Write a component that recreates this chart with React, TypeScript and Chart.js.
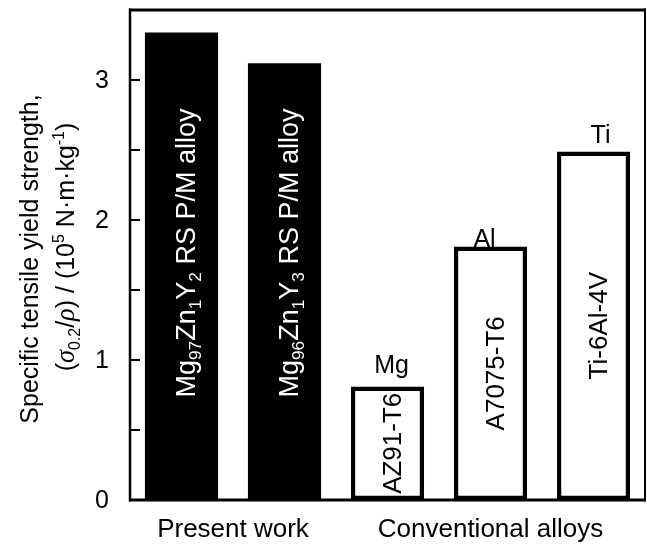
import React, { useEffect, useRef } from "react";
import { Chart, registerables } from "chart.js";

Chart.register(...registerables);

type Seg = [string, "n" | "sub" | "sup" | "it"];

// ---- data ----
const categories = [
  "Mg97Zn1Y2 RS P/M alloy",
  "Mg96Zn1Y3 RS P/M alloy",
  "AZ91-T6",
  "A7075-T6",
  "Ti-6Al-4V",
];
const strengths = [3.34, 3.12, 0.81, 1.81, 2.49];
const groupNames = ["Present work", "Conventional alloys"];
const groupMembers = [
  [0, 1],
  [2, 3, 4],
];
const metalLabels = ["", "", "Mg", "Al", "Ti"];
const yTickValues = [0, 0.5, 1, 1.5, 2, 2.5, 3];
const yTickLabels = ["0", "", "1", "", "2", "", "3"];
const yMin = 0;
const yMax = 3.5;

const barText: Seg[][] = [
  [["Mg", "n"], ["97", "sub"], ["Zn", "n"], ["1", "sub"], ["Y", "n"], ["2", "sub"], [" RS P/M alloy", "n"]],
  [["Mg", "n"], ["96", "sub"], ["Zn", "n"], ["1", "sub"], ["Y", "n"], ["3", "sub"], [" RS P/M alloy", "n"]],
  [["AZ91-T6", "n"]],
  [["A7075-T6", "n"]],
  [["Ti-6Al-4V", "n"]],
];
const yTitleLine1: Seg[] = [["Specific tensile yield strength,", "n"]];
const yTitleLine2: Seg[] = [
  ["(", "n"], ["σ", "it"], ["0.2", "sub"], ["/", "n"], ["ρ", "it"], [") / (10", "n"],
  ["5", "sup"], [" N·m·kg", "n"], ["-1", "sup"], [")", "n"],
];

// ---- style ----
const barFilled = [true, true, false, false, false];
const barTextSize = [27, 27, 26, 26, 26];
const labelNudgeX = [0, 0, 4, -6, 7];
const labelLift = [0, 0, 14, 0, 8];
const SANS = '"Liberation Sans", Arial, Helvetica, sans-serif';
const SERIF = '"Liberation Serif", "Times New Roman", serif';

function drawRich(
  ctx: CanvasRenderingContext2D,
  segs: Seg[],
  size: number,
  cx: number,
  cy: number,
  color: string,
  rotate: boolean
) {
  const parts = segs.map(([t, k]) => {
    const small = k === "sub" || k === "sup";
    const fs = small ? size * 0.64 : size;
    const font = k === "it" ? `italic ${fs * 1.05}px ${SERIF}` : `${fs}px ${SANS}`;
    ctx.font = font;
    return { t, k, font, w: ctx.measureText(t).width };
  });
  const total = parts.reduce((a, p) => a + p.w, 0);
  ctx.save();
  ctx.translate(cx, cy);
  if (rotate) ctx.rotate(-Math.PI / 2);
  ctx.fillStyle = color;
  ctx.textAlign = "left";
  ctx.textBaseline = "alphabetic";
  let x = -total / 2;
  const base = size * 0.36;
  for (const p of parts) {
    const dy = p.k === "sub" ? size * 0.22 : p.k === "sup" ? -size * 0.4 : 0;
    ctx.font = p.font;
    ctx.fillText(p.t, x, base + dy);
    x += p.w;
  }
  ctx.restore();
}

const decorPlugin = {
  id: "decor",
  afterDatasetsDraw(chart: any) {
    const ctx: CanvasRenderingContext2D = chart.ctx;
    const { left, right, top, bottom } = chart.chartArea;
    const xs = chart.scales.x;
    const ys = chart.scales.y;
    ctx.save();
    ctx.strokeStyle = "#000";
    ctx.lineCap = "butt";
    const line = (x1: number, y1: number, x2: number, y2: number, w: number) => {
      ctx.lineWidth = w;
      ctx.beginPath();
      ctx.moveTo(x1, y1);
      ctx.lineTo(x2, y2);
      ctx.stroke();
    };
    // frame
    line(left, top - 1.5, left, bottom + 1.5, 2.5);
    line(right, top - 1.5, right, bottom + 1.5, 2);
    line(left - 1, top, right + 1, top, 3);
    line(left - 1, bottom, right + 1, bottom, 3);

    // y ticks (inward) + labels
    ctx.fillStyle = "#000";
    ctx.font = `25px ${SANS}`;
    ctx.textAlign = "right";
    ctx.textBaseline = "middle";
    yTickValues.forEach((v, i) => {
      const py = ys.getPixelForValue(v);
      if (v > yMin) line(left, py, left + 10, py, 2);
      if (yTickLabels[i]) ctx.fillText(yTickLabels[i], left - 21, py + 1);
    });

    // group labels under x axis
    ctx.font = `26px ${SANS}`;
    ctx.textAlign = "center";
    ctx.textBaseline = "alphabetic";
    groupNames.forEach((g, gi) => {
      const m = groupMembers[gi];
      const cx = (xs.getPixelForValue(m[0]) + xs.getPixelForValue(m[m.length - 1])) / 2;
      ctx.fillText(g, cx, bottom + 37);
    });

    // y title
    drawRich(ctx, yTitleLine1, 25, 29, (top + bottom) / 2 + 4, "#000", true);
    drawRich(ctx, yTitleLine2, 25, 65, (top + bottom) / 2 - 8, "#000", true);

    // text inside bars and metal labels
    strengths.forEach((v, i) => {
      const cx = xs.getPixelForValue(i);
      const pTop = ys.getPixelForValue(v);
      const pBase = ys.getPixelForValue(0);
      const cy = barFilled[i] ? (top + bottom) / 2 - 2 : (pTop + pBase) / 2;
      drawRich(ctx, barText[i], barTextSize[i], cx + 4, cy, barFilled[i] ? "#fff" : "#000", true);
      if (metalLabels[i]) {
        ctx.font = `25px ${SANS}`;
        ctx.fillStyle = "#000";
        ctx.textAlign = "center";
        ctx.textBaseline = "alphabetic";
        ctx.fillText(metalLabels[i], cx + labelNudgeX[i], pTop - labelLift[i]);
      }
    });
    ctx.restore();
  },
};

export default function App() {
  const ref = useRef<HTMLCanvasElement>(null);
  useEffect(() => {
    if (!ref.current) return;
    const chart = new Chart(ref.current, {
      type: "bar",
      data: {
        labels: categories,
        datasets: [
          {
            data: strengths,
            backgroundColor: barFilled.map((f) => (f ? "#000" : "#fff")),
            borderColor: "#000",
            borderWidth: barFilled.map((f) => (f ? 0 : 4.5)),
            borderSkipped: false,
            categoryPercentage: 1,
            barPercentage: 0.71,
          },
        ],
      },
      options: {
        animation: false,
        responsive: false,
        devicePixelRatio: 1,
        layout: { padding: { left: 130, top: 10, right: 2, bottom: 48 } },
        plugins: { legend: { display: false }, tooltip: { enabled: false } },
        scales: {
          x: { type: "category", display: false, offset: true },
          y: { type: "linear", display: false, min: yMin, max: yMax },
        },
      },
      plugins: [decorPlugin],
    });
    return () => chart.destroy();
  }, []);
  return (
    <div style={{ position: "absolute", left: 0, top: 0, width: 647, height: 548, background: "#fff" }}>
      <canvas ref={ref} width={647} height={548} style={{ display: "block", width: 647, height: 548 }} />
    </div>
  );
}
